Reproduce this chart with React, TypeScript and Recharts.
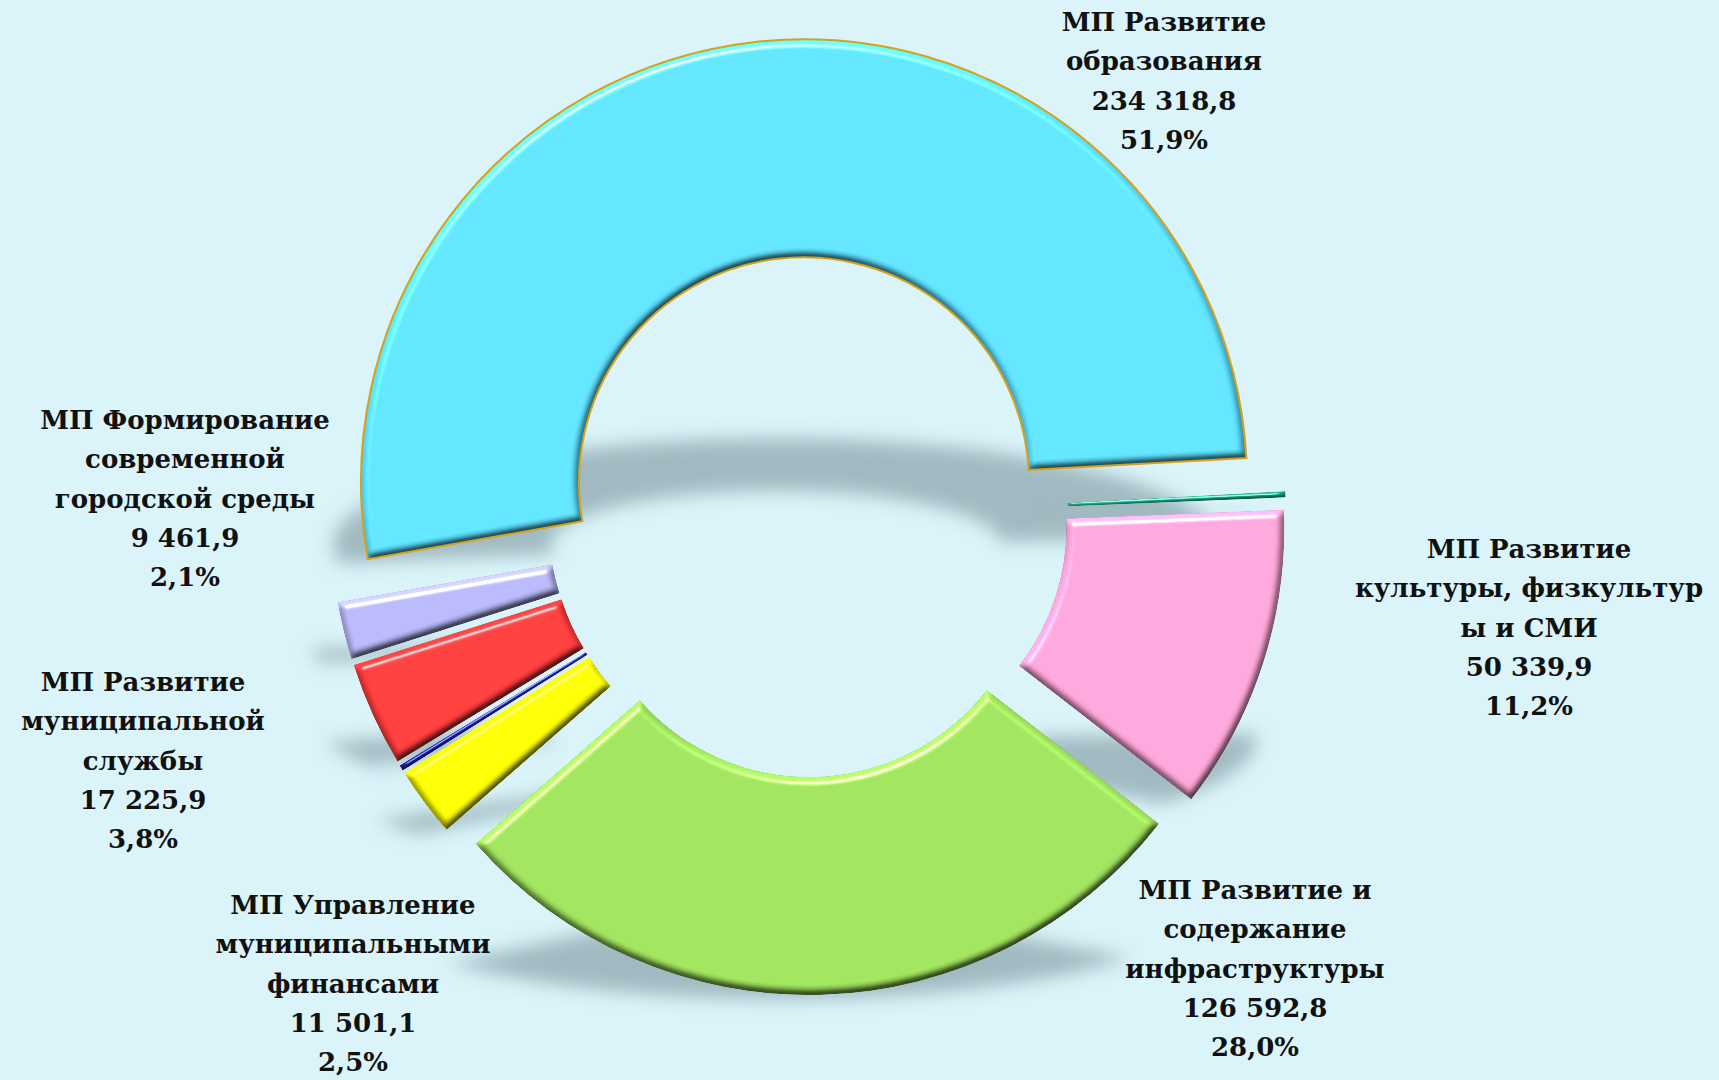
import React from 'react';
import { PieChart, Pie, Sector, Cell } from 'recharts';

// ---- data ----
const NAMES = [
  'МП Развитие образования',
  'Прочие программы (1)',
  'МП Развитие культуры, физкультуры и СМИ',
  'МП Развитие и содержание инфраструктуры',
  'МП Управление муниципальными финансами',
  'Прочие программы (2)',
  'МП Развитие муниципальной службы',
  'МП Формирование современной городской среды',
];
const VALUES = [234318.8, 1000, 50339.9, 126592.8, 11501.1, 950, 17225.9, 9461.9];
const LABEL_TITLES: (string[] | null)[] = [
  ['МП Развитие', 'образования'],
  null,
  ['МП Развитие', 'культуры, физкультур', 'ы и СМИ'],
  ['МП Развитие и', 'содержание', 'инфраструктуры'],
  ['МП Управление', 'муниципальными', 'финансами'],
  null,
  ['МП Развитие', 'муниципальной', 'службы'],
  ['МП Формирование', 'современной', 'городской среды'],
];

// ---- styles / layout ----
const COLORS = ['#5DE0FE', '#1E9A78', '#FCA3D7', '#9CDF5A', '#FFFF00', '#1C1C96', '#FF3B3B', '#B4B4F6'];
const STROKES = ['#D4A21C', 'none', 'none', 'none', 'none', 'none', 'none', 'none'];
const LABEL_POS: ([number, number] | null)[] = [
  [1164, 22], null, [1529, 549], [1255, 890], [353, 905], null, [143, 682], [185, 420],
];
const W = 1719;
const H = 1080;
const CX = 808;
const CY = 517;
const RI = 225;
const RO = 443;
const EXPLODE = 35;
const LINE_H = 39.3;
const FONT = 26;
const BG = '#DAF4FA';
const SHADOW_K = 0.24;

const data = NAMES.map((name, i) => ({ name, value: VALUES[i] }));

const RAD = Math.PI / 180;

function fmtNum(v: number) {
  const [int, dec] = v.toFixed(1).split('.');
  const grouped = int.replace(/\B(?=(\d{3})+(?!\d))/g, ' ');
  return `${grouped},${dec}`;
}

function offsetOf(p: any) {
  const m = p.midAngle * RAD;
  return { dx: EXPLODE * Math.cos(m), dy: -EXPLODE * Math.sin(m) };
}

function sectorBottom(cx: number, cy: number, ri: number, ro: number, a1: number, a2: number) {
  let maxY = -Infinity;
  for (let i = 0; i <= 60; i++) {
    const a = (a1 + ((a2 - a1) * i) / 60) * RAD;
    for (const r of [ri, ro]) {
      const y = cy - r * Math.sin(a);
      if (y > maxY) maxY = y;
    }
  }
  return maxY;
}

const renderSlice = (p: any) => {
  const { dx, dy } = offsetOf(p);
  const idx = NAMES.indexOf(p.name);
  const stroke = STROKES[idx] || 'none';
  const common = {
    cx: p.cx + dx,
    cy: p.cy + dy,
    innerRadius: p.innerRadius,
    outerRadius: p.outerRadius,
    startAngle: p.startAngle,
    endAngle: p.endAngle,
  };
  return (
    <g>
      <g filter="url(#bevel)">
        <Sector {...common} fill={p.fill} stroke="none" />
      </g>
      {stroke !== 'none' && <Sector {...common} fill="none" stroke={stroke} strokeWidth={2} />}
    </g>
  );
};

const renderShadow = (p: any) => {
  const { dx, dy } = offsetOf(p);
  const cx = p.cx + dx;
  const cy = p.cy + dy;
  const maxY = sectorBottom(cx, cy, p.innerRadius, p.outerRadius, p.startAngle, p.endAngle);
  const ty = maxY * (1 - SHADOW_K);
  return (
    <g filter="url(#softShadow)" opacity={0.75}>
      <g transform={`translate(-28 ${ty + 4}) scale(1 ${SHADOW_K})`}>
        <Sector
          cx={cx}
          cy={cy}
          innerRadius={p.innerRadius}
          outerRadius={p.outerRadius}
          startAngle={p.startAngle}
          endAngle={p.endAngle}
          fill="#8ea7ae"
          stroke="none"
        />
      </g>
    </g>
  );
};

const renderLabel = (p: any) => {
  const idx = NAMES.indexOf(p.name);
  const pos = LABEL_POS[idx];
  const title = LABEL_TITLES[idx];
  if (!pos || !title) return null;
  const lines = [...title, fmtNum(p.value), `${(p.percent * 100).toFixed(1).replace('.', ',')}%`];
  return (
    <text
      key={`lbl-${idx}`}
      x={pos[0]}
      y={pos[1]}
      textAnchor="middle"
      fill="#111"
      fontFamily="'DejaVu Serif', serif"
      fontWeight={700}
      fontSize={FONT}
    >
      {lines.map((t, i) => (
        <tspan key={i} x={pos[0]} y={pos[1] + i * LINE_H + 9}>
          {t}
        </tspan>
      ))}
    </text>
  );
};

export default function App() {
  return (
    <div style={{ position: 'absolute', left: 0, top: 0, width: W, height: H, background: BG, overflow: 'hidden' }}>
      <svg width={0} height={0} style={{ position: 'absolute' }}>
        <defs>
          <filter id="bevel" x="-10%" y="-10%" width="120%" height="120%" colorInterpolationFilters="sRGB">
            <feGaussianBlur in="SourceAlpha" stdDeviation="3.5" result="blur" />
            <feDiffuseLighting in="blur" surfaceScale="6" diffuseConstant="1" lightingColor="#ffffff" result="diff">
              <feDistantLight azimuth="250" elevation="50" />
            </feDiffuseLighting>
            <feComposite in="SourceGraphic" in2="diff" operator="arithmetic" k1="0.85" k2="0.35" k3="0" k4="0" result="lit" />
            <feSpecularLighting in="blur" surfaceScale="6" specularConstant="1" specularExponent="50" lightingColor="#ffffff" result="spec">
              <feDistantLight azimuth="250" elevation="50" />
            </feSpecularLighting>
            <feComposite in="spec" in2="SourceAlpha" operator="in" result="specIn" />
            <feComposite in="lit" in2="specIn" operator="arithmetic" k1="0" k2="1" k3="0.6" k4="0" result="sum" />
            <feComposite in="sum" in2="SourceAlpha" operator="in" />
          </filter>
          <filter id="softShadow" x="-30%" y="-100%" width="160%" height="300%">
            <feGaussianBlur stdDeviation="9" />
          </filter>
        </defs>
      </svg>
      <PieChart width={W} height={H} margin={{ top: 0, right: 0, bottom: 0, left: 0 }}>
        <Pie
          data={data}
          dataKey="value"
          nameKey="name"
          cx={CX}
          cy={CY}
          innerRadius={RI}
          outerRadius={RO}
          startAngle={190}
          endAngle={-170}
          isAnimationActive={false}
          stroke="none"
          shape={renderShadow}
          activeShape={renderShadow}
          inactiveShape={renderShadow}
          label={false}
          labelLine={false}
        >
          {data.map((d, i) => (
            <Cell key={`s-${i}`} fill={COLORS[i]} />
          ))}
        </Pie>
        <Pie
          data={data}
          dataKey="value"
          nameKey="name"
          cx={CX}
          cy={CY}
          innerRadius={RI}
          outerRadius={RO}
          startAngle={190}
          endAngle={-170}
          isAnimationActive={false}
          stroke="none"
          shape={renderSlice}
          activeShape={renderSlice}
          inactiveShape={renderSlice}
          label={renderLabel}
          labelLine={false}
        >
          {data.map((d, i) => (
            <Cell key={`c-${i}`} fill={COLORS[i]} />
          ))}
        </Pie>
      </PieChart>
    </div>
  );
}
